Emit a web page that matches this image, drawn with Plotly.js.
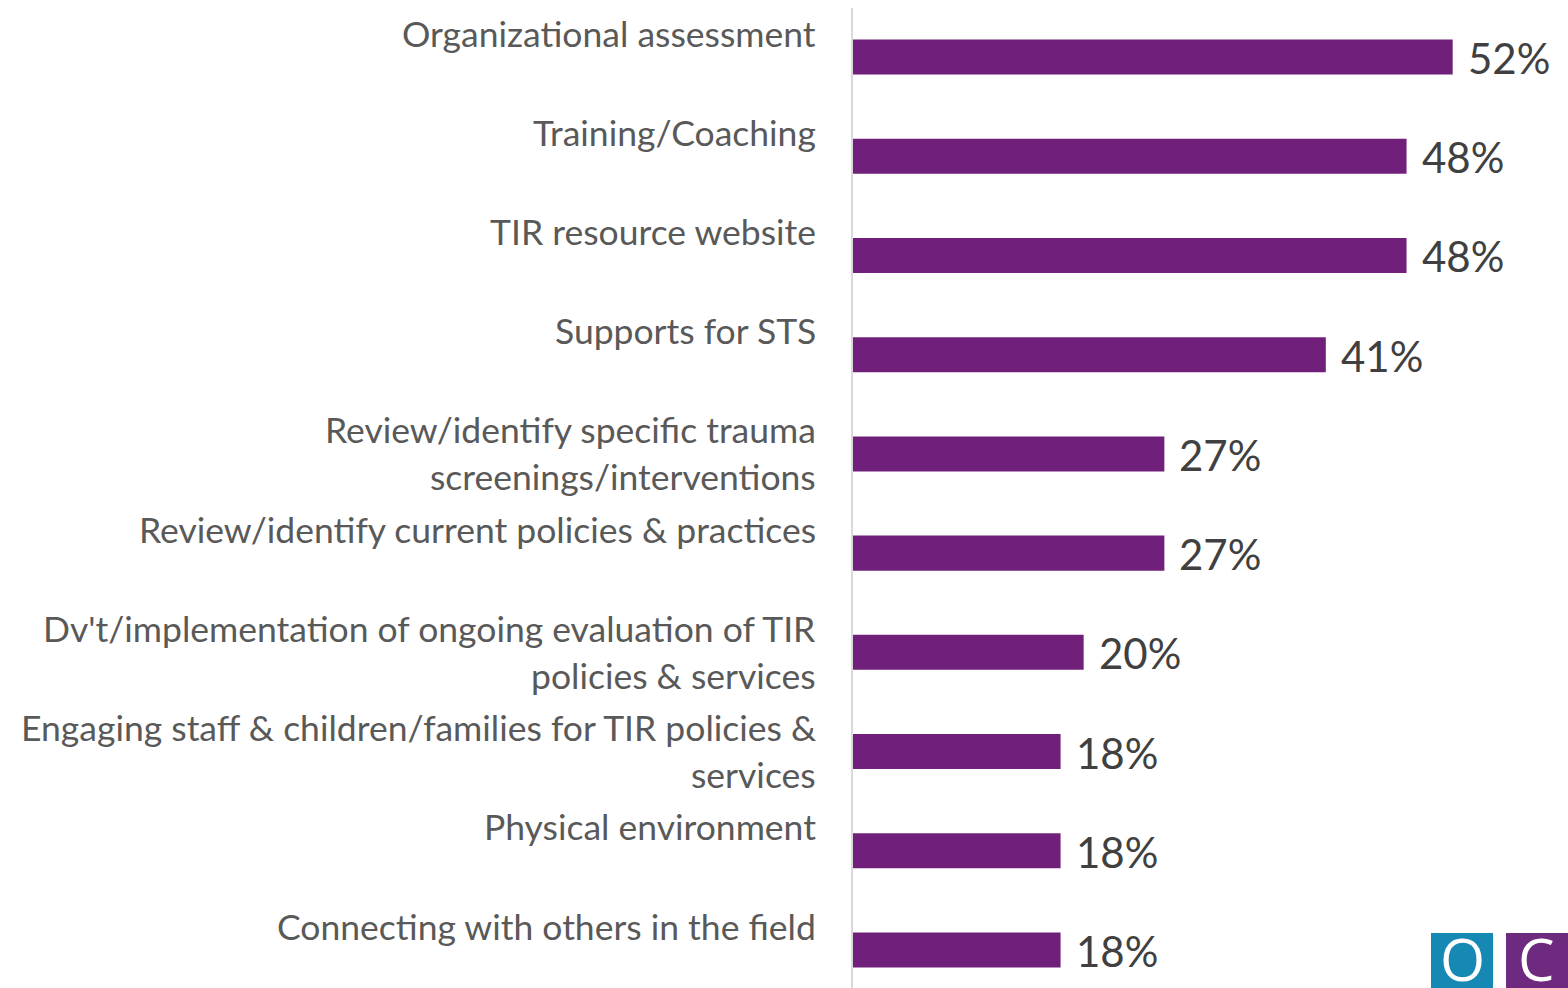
<!DOCTYPE html>
<html>
<head>
<meta charset="utf-8">
<script src="https://cdn.plot.ly/plotly-3.0.1.min.js"></script>
<style>html,body{margin:0;padding:0;background:#fff;}#chart{width:1568px;height:988px;}</style>
</head>
<body>
<div id="chart"></div>
<script>
const categories = [
  "Organizational assessment",
  "Training/Coaching",
  "TIR resource website",
  "Supports for STS",
  "Review/identify specific trauma<br>screenings/interventions",
  "Review/identify current policies & practices",
  "Dv't/implementation of ongoing evaluation of TIR<br>policies & services",
  "Engaging staff & children/families for TIR policies &<br>services",
  "Physical environment",
  "Connecting with others in the field"
];
const values = [52, 48, 48, 41, 27, 27, 20, 18, 18, 18];
const valueLabels = ["52%", "48%", "48%", "41%", "27%", "27%", "20%", "18%", "18%", "18%"];

const positions = categories.map((c, i) => i);
const barColor = "#70207A";
const labelFont = {family: "Lato, 'Open Sans', sans-serif", size: 35.5, color: "#595959"};
const valueFont = {family: "Lato, 'Open Sans', sans-serif", size: 42, color: "#404040"};

const trace = {
  type: "bar",
  orientation: "h",
  x: values,
  y: positions,
  width: 0.353,
  marker: {color: barColor},
  hoverinfo: "skip"
};

const annotations = [];
categories.forEach((label, i) => {
  label.split("<br>").forEach((line, j) => {
    annotations.push({
      xref: "paper", yref: "y", x: 0, y: positions[i],
      xanchor: "right", yanchor: "middle",
      xshift: -35, yshift: 24 - 47 * j,
      text: line, showarrow: false, font: labelFont
    });
  });
});
values.forEach((v, i) => {
  annotations.push({
    xref: "x", yref: "y", x: v, y: positions[i],
    xanchor: "left", yanchor: "middle", xshift: 13, yshift: -1,
    text: valueLabels[i], showarrow: false, font: valueFont
  });
});

// logo
annotations.push({xref: "paper", yref: "paper", x: 0.8518, y: 0.03, xanchor: "center", yanchor: "middle",
  text: "O", showarrow: false, font: {family: "'Open Sans', sans-serif", size: 58, color: "#ffffff"}});
annotations.push({xref: "paper", yref: "paper", x: 0.9566, y: 0.03, xanchor: "center", yanchor: "middle",
  text: "C", showarrow: false, font: {family: "'Open Sans', sans-serif", size: 58, color: "#ffffff"}});

const layout = {
  width: 1568, height: 988,
  margin: {l: 853, r: 0, t: 8, b: 0, pad: 0},
  paper_bgcolor: "#ffffff", plot_bgcolor: "#ffffff",
  showlegend: false,
  xaxis: {range: [0, 62], showgrid: false, zeroline: false, showticklabels: false, ticks: "", showline: false, fixedrange: true},
  yaxis: {range: [9.383, -0.494], showgrid: false, zeroline: false, showticklabels: false, ticks: "",
          showline: true, linecolor: "#d9d9d9", linewidth: 2, fixedrange: true},
  annotations: annotations,
  shapes: [
    {type: "rect", xref: "paper", yref: "paper", x0: 0.8084, x1: 0.8951, y0: -0.01, y1: 0.0561, fillcolor: "#1589B4", line: {width: 0}, layer: "above"},
    {type: "rect", xref: "paper", yref: "paper", x0: 0.9133, x1: 1.0, y0: -0.01, y1: 0.0561, fillcolor: "#6E2A7E", line: {width: 0}, layer: "above"}
  ]
};

Plotly.newPlot("chart", [trace], layout, {displayModeBar: false, staticPlot: true});
</script>
</body>
</html>
